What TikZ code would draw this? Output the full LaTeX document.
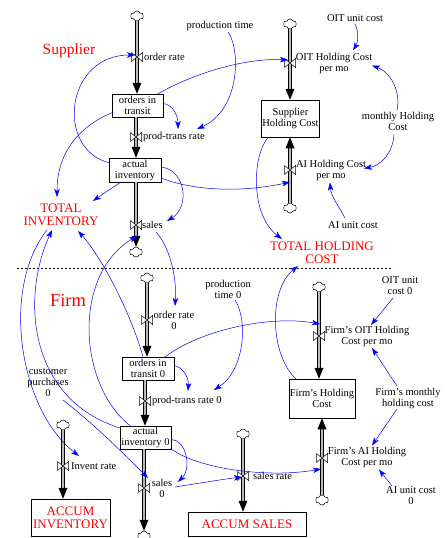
\documentclass[tikz,border=0pt]{standalone}
\usepackage{fontspec}
\setmainfont{Liberation Serif}
\usetikzlibrary{arrows.meta,shapes.symbols,calc}
\begin{document}
\begin{tikzpicture}[x=1pt,y=-1pt,
  stock/.style={draw=black, line width=0.5pt, fill=white, align=center, inner sep=1pt, font=\fontsize{10.5}{11}\selectfont},
  var/.style={align=center, inner sep=1pt, font=\fontsize{10.5}{11}\selectfont},
  bigred/.style={align=center, inner sep=1pt, text=red, font=\fontsize{13}{12.5}\selectfont},
  conn/.style={draw=blue, line width=0.5pt, -{Stealth[length=8pt,width=5.5pt,inset=2pt]}},
  pipe/.style={draw=black, line width=0.7pt, double=gray!55, double distance=2.6pt},
  pipetip/.style={fill=black},
  cloudn/.style={cloud, cloud puffs=6, cloud puff arc=140, aspect=1.4, draw=black, fill=white, line width=0.5pt, minimum width=13pt, minimum height=10pt, inner sep=0pt},
  valve/.pic={\filldraw[fill=white,draw=black,line width=0.5pt] (-5.5,-4.5) -- (5.5,4.5) -- (5.5,-4.5) -- (-5.5,4.5) -- cycle;}
]
\useasboundingbox (0,0) rectangle (447,538);

% ---------- stocks ----------
\node[stock, minimum width=51pt, minimum height=23pt] (oit) at (137.5,105.5) {orders in\\transit};
\node[stock, minimum width=52pt, minimum height=24pt] (ai) at (135,170) {actual\\inventory};
\node[stock, minimum width=57pt, minimum height=37pt] (shc) at (290.5,118.5) {Supplier\\Holding Cost};
\node[stock, minimum width=52pt, minimum height=23pt] (oit0) at (148,368.5) {orders in\\transit 0};
\node[stock, minimum width=51pt, minimum height=23pt] (ai0) at (145.5,437.5) {actual\\inventory 0};
\node[stock, minimum width=64pt, minimum height=39pt] (fhc) at (322,398.5) {Firm's Holding\\Cost};
\node[stock, minimum width=79pt, minimum height=37pt, text=red, font=\fontsize{13}{13}\selectfont] (accinv) at (70.5,517.5) {ACCUM\\INVENTORY};
\node[stock, minimum width=118pt, minimum height=24pt, text=red, font=\fontsize{13}{13}\selectfont] (accsales) at (247,524) {ACCUM SALES};

% ---------- clouds ----------
\node[cloudn] (c1) at (137,16) {};
\node[cloudn] (c3) at (136,252) {};
\node[cloudn] (c4) at (290,24) {};
\node[cloudn] (c5) at (290,208) {};
\node[cloudn] (c6) at (147,278) {};
\node[cloudn] (c8) at (144,536) {};
\node[cloudn] (c9) at (63,425) {};
\node[cloudn] (c10) at (243,434) {};
\node[cloudn] (c11) at (319,287) {};
\node[cloudn] (c12) at (322,500) {};

% ---------- valves ----------
\coordinate (v1) at (137,57);
\coordinate (v2) at (136,137);
\coordinate (v3) at (136,225);
\coordinate (v4) at (290,63);
\coordinate (v5) at (290,170);
\coordinate (v6) at (147,320);
\coordinate (v7) at (145,401);
\coordinate (v8) at (144,488);
\coordinate (v9) at (63,466);
\coordinate (v10) at (243,476);
\coordinate (v11) at (319,336);
\coordinate (v12) at (322,458);

% ---------- texts ----------
\node[var] (prodtime) at (220,26) {production time};
\node[var] (oituc) at (355,18) {OIT unit cost};
\node[var] (mhc) at (398,121.5) {monthly Holding\\Cost};
\node[var] (aiuc) at (353,225) {AI unit cost};
\node[var, anchor=west] (ordlbl) at (143,57) {order rate};
\node[var, anchor=west] (ptlbl) at (142,137) {prod-trans rate};
\node[var, anchor=west] (saleslbl) at (141,225) {sales};
\node[var] (oitlbl) at (334,63.5) {OIT Holding Cost\\per mo};
\node[var] (ailbl) at (331,170.5) {AI Holding Cost\\per mo};
\node[bigred] (tinv) at (61,215) {TOTAL\\INVENTORY};
\node[bigred] (thc) at (322,253) {TOTAL HOLDING\\COST};
\node[var, text=red, font=\fontsize{15.5}{16}\selectfont] (supplier) at (69,51) {Supplier};
\node[var, text=red, font=\fontsize{18.5}{19}\selectfont] (firm) at (68,300) {Firm};

\node[var] (prodtime0) at (228,289) {production\\time 0};
\node[var] (oituc0) at (400,286) {OIT unit\\cost 0};
\node[var] (cust) at (48,383) {customer\\purchases\\0};
\node[var] (fmhc) at (408,398) {Firm's monthly\\holding cost};
\node[var] (aiuc0) at (411,496) {AI unit cost\\0};
\node[var] (ord0lbl) at (174,320.5) {order rate\\0};
\node[var, anchor=west] (pt0lbl) at (151,401) {prod-trans rate 0};
\node[var] (sales0lbl) at (162,488) {sales\\0};
\node[var, anchor=west] (invlbl) at (70,466) {Invent rate};
\node[var, anchor=west] (srlbl) at (252,476) {sales rate};
\node[var] (foitlbl) at (367,336) {Firm's OIT Holding\\Cost per mo};
\node[var] (failbl) at (367,457.5) {Firm's AI Holding\\Cost per mo};

% ---------- separator ----------
\coordinate (sepL) at (17,268);
\coordinate (sepR) at (393,268);
\draw[line width=0.4pt, dash pattern=on 2pt off 2pt] (sepL) -- (sepR);

% ---------- flows ----------
% F1
\coordinate (f1z) at (c1 |- oit.north);
\draw[pipe] (c1.south) -- ($(f1z)+(0,-9)$);
\fill[pipetip] (f1z) -- ++(-4.5,-11) -- ++(9,0) -- cycle;
% F2
\coordinate (f2a) at (v2 |- oit.south);
\coordinate (f2z) at (v2 |- ai.north);
\draw[pipe] (f2a) -- ($(f2z)+(0,-9)$);
\fill[pipetip] (f2z) -- ++(-4.5,-11) -- ++(9,0) -- cycle;
% F3
\coordinate (f3a) at (v3 |- ai.south);
\draw[pipe] (f3a) -- ($(c3.north)+(0,-9)$);
\fill[pipetip] (c3.north) -- ++(-4.5,-11) -- ++(9,0) -- cycle;
% F4
\coordinate (f4z) at (c4 |- shc.north);
\draw[pipe] (c4.south) -- ($(f4z)+(0,-9)$);
\fill[pipetip] (f4z) -- ++(-4.5,-11) -- ++(9,0) -- cycle;
% F5
\coordinate (f5z) at (c5 |- shc.south);
\draw[pipe] (c5.north) -- ($(f5z)+(0,9)$);
\fill[pipetip] (f5z) -- ++(-4.5,11) -- ++(9,0) -- cycle;
% F6
\coordinate (f6z) at (c6 |- oit0.north);
\draw[pipe] (c6.south) -- ($(f6z)+(0,-9)$);
\fill[pipetip] (f6z) -- ++(-4.5,-11) -- ++(9,0) -- cycle;
% F7
\coordinate (f7a) at (v7 |- oit0.south);
\coordinate (f7z) at (v7 |- ai0.north);
\draw[pipe] (f7a) -- ($(f7z)+(0,-9)$);
\fill[pipetip] (f7z) -- ++(-4.5,-11) -- ++(9,0) -- cycle;
% F8
\coordinate (f8a) at (v8 |- ai0.south);
\draw[pipe] (f8a) -- ($(c8.north)+(0,-9)$);
\fill[pipetip] (c8.north) -- ++(-4.5,-11) -- ++(9,0) -- cycle;
% F9
\coordinate (f9z) at (c9 |- accinv.north);
\draw[pipe] (c9.south) -- ($(f9z)+(0,-9)$);
\fill[pipetip] (f9z) -- ++(-4.5,-11) -- ++(9,0) -- cycle;
% F10
\coordinate (f10z) at (c10 |- accsales.north);
\draw[pipe] (c10.south) -- ($(f10z)+(0,-9)$);
\fill[pipetip] (f10z) -- ++(-4.5,-11) -- ++(9,0) -- cycle;
% F11
\coordinate (f11z) at (c11 |- fhc.north);
\draw[pipe] (c11.south) -- ($(f11z)+(0,-9)$);
\fill[pipetip] (f11z) -- ++(-4.5,-11) -- ++(9,0) -- cycle;
% F12
\coordinate (f12z) at (c12 |- fhc.south);
\draw[pipe] (c12.north) -- ($(f12z)+(0,9)$);
\fill[pipetip] (f12z) -- ++(-4.5,11) -- ++(9,0) -- cycle;

\foreach \v in {v1,v2,v3,v4,v5,v6,v7,v8,v9,v10,v11,v12} \pic at (\v) {valve};

% ---------- connectors (supplier) ----------
\draw[conn] ($(ai)+(-25,-7)$) .. controls (55,150) and (65,55) .. ($(v1)+(-2,-2)$);
\draw[conn] ($(oit)+(-25,7)$) .. controls (82,125) and (57,150) .. ($(tinv)+(-4,-18)$);
\draw[conn] ($(oit)+(25.5,-2)$) .. controls (172,104) and (178,115) .. ($(v2)+(42,-8)$);
\draw[conn] ($(prodtime)+(8,6)$) .. controls (241,50) and (240,110) .. ($(v2)+(61,-8)$);
\draw[conn] ($(oit)+(20,-11.5)$) .. controls (200,70) and (250,58) .. ($(v4)+(-2,-3)$);
\draw[conn] ($(oituc)+(0,6)$) .. controls (359,32) and (358,42) .. ($(oitlbl)+(19,-13)$);
\draw[conn] ($(mhc)+(-1,-11)$) .. controls (401,90) and (390,72) .. ($(oitlbl)+(38,2)$);
\draw[conn] ($(mhc)+(-4,13)$) .. controls (393,152) and (382,165) .. ($(ailbl)+(33,-2)$);
\draw[conn] ($(aiuc)+(-8,-7)$) .. controls (338,205) and (331,196) .. ($(ailbl)+(-1,12)$);
\draw[conn] ($(ai)+(26,8)$) .. controls (200,193) and (250,191) .. ($(v5)+(0,12)$);
\draw[conn] ($(ai)+(26,-3)$) .. controls (186,170) and (190,207) .. ($(v3)+(31,-4)$);
\draw[conn] ($(ai)+(-14,12)$) .. controls (112,188) and (100,196) .. ($(tinv)+(32,-14)$);
\draw[conn] ($(shc)+(-22,18.5)$) .. controls (252,155) and (250,215) .. ($(thc)+(-40,-14)$);
\draw[conn] ($(v3)+(20,7)$) .. controls (169,246) and (177,276) .. ($(v6)+(28,-14)$);

% ---------- connectors (firm) ----------
\draw[conn] ($(ai0)+(-15,-11.5)$) .. controls (78,385) and (72,275) .. ($(v3)+(1,11)$);
\draw[conn] ($(oit0)+(-5,-11.5)$) .. controls (130,310) and (100,255) .. ($(tinv)+(17,16)$);
\draw[conn] ($(ai0)+(-25.5,-9.5)$) .. controls (30,400) and (20,300) .. ($(tinv)+(-9,15)$);
\draw[conn] ($(tinv)+(-14,15)$) .. controls (0,290) and (20,410) .. ($(v9)+(16,-10)$);
\draw[conn] ($(cust)+(15,17)$) .. controls (95,425) and (125,455) .. ($(v8)+(4,-10)$);
\draw[conn] ($(ai0)+(26,2)$) .. controls (186,440) and (192,468) .. ($(v8)+(34,-6)$);
\draw[conn] ($(ai0)+(25,11)$) .. controls (200,470) and (270,478) .. ($(v12)+(-1,11)$);
\draw[conn] ($(v8)+(31,-1)$) .. controls (200,483) and (225,479) .. ($(v10)+(-1,1)$);
\draw[conn] ($(oit0)+(26,-3)$) .. controls (183,367) and (189,378) .. ($(v7)+(43,-10)$);
\draw[conn] ($(prodtime0)+(7,11)$) .. controls (248,320) and (245,370) .. ($(v7)+(69,-11)$);
\draw[conn] ($(oit0)+(17,-11.5)$) .. controls (200,330) and (270,315) .. ($(v11)+(1,-12)$);
\draw[conn] ($(oituc0)+(-7,12)$) -- ($(foitlbl)+(4,-11)$);
\draw[conn] ($(fmhc)+(-11,-12)$) -- ($(foitlbl)+(5,12)$);
\draw[conn] ($(fmhc)+(-11,11)$) -- ($(failbl)+(5,-12)$);
\draw[conn] ($(aiuc0)+(-19,-10)$) -- ($(failbl)+(12,12)$);
\draw[conn] ($(fhc)+(-26,-19.5)$) .. controls (270,355) and (268,290) .. ($(thc)+(-24,13)$);
\end{tikzpicture}
\end{document}
